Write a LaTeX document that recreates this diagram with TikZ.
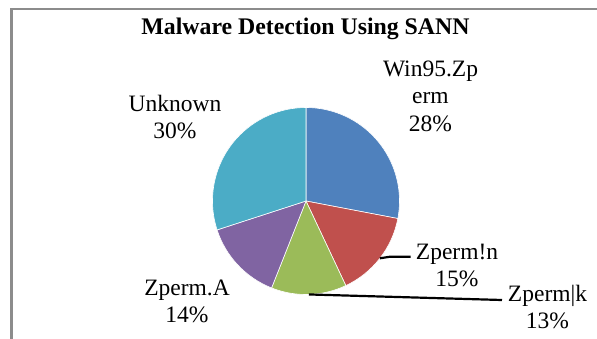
\documentclass[tikz,border=0pt]{standalone}
\usepackage{fontspec}
\setmainfont{Liberation Serif}
\definecolor{sWin}{HTML}{4F81BD}
\definecolor{sN}{HTML}{C0504D}
\definecolor{sK}{HTML}{9BBB59}
\definecolor{sA}{HTML}{8064A2}
\definecolor{sU}{HTML}{4BACC6}
\definecolor{frameGray}{HTML}{8C8C8C}
\begin{document}
\begin{tikzpicture}[x=1pt,y=-1pt,
  slice/.style={draw=white,line width=0.6pt,line join=round},
  lbl/.style={inner sep=0pt,anchor=base,font=\fontsize{23.5}{27.6}\selectfont},
  leader/.style={draw=black,line width=2.2pt,line join=round},
  chartframe/.style={draw=frameGray,line width=2.2pt}]
\useasboundingbox (0,0) rectangle (597,338);
\fill[white] (0,0) rectangle (597,338);
% chart area border (left and top edges)
\draw[chartframe] (11.5,339) |- (598,8.8);

% title
\node[inner sep=0pt,anchor=base,font=\bfseries\fontsize{23.8}{28}\selectfont] (title) at (305.5,34) {Malware Detection Using SANN};

% pie, drawn with the y axis pointing up
\begin{scope}[shift={(306,201)},yscale=-1]
  \def\R{93.5}
  \coordinate (pc) at (0,0);
  \filldraw[slice,fill=sWin] (pc) -- (90:\R) arc[start angle=90,end angle=-10.8,radius=\R] -- cycle;
  \filldraw[slice,fill=sN] (pc) -- (-10.8:\R) arc[start angle=-10.8,end angle=-64.8,radius=\R] -- cycle;
  \filldraw[slice,fill=sK] (pc) -- (-64.8:\R) arc[start angle=-64.8,end angle=-111.6,radius=\R] -- cycle;
  \filldraw[slice,fill=sA] (pc) -- (-111.6:\R) arc[start angle=-111.6,end angle=-162,radius=\R] -- cycle;
  \filldraw[slice,fill=sU] (pc) -- (-162:\R) arc[start angle=-162,end angle=-270,radius=\R] -- cycle;
  \coordinate (nEdge) at (-37.8:\R);
  \coordinate (kEdge) at (-88.2:\R);
\end{scope}

% data labels
\node[lbl] (lWin) at (430.5,76) {\begin{tabular}[t]{@{}c@{}}Win95.Zp\\erm\\28\%\end{tabular}};
\node[lbl] (lUnk) at (175,111) {\begin{tabular}[t]{@{}c@{}}Unknown\\30\%\end{tabular}};
\node[lbl] (lN) at (457,259) {\begin{tabular}[t]{@{}c@{}}Zperm!n\\15\%\end{tabular}};
\node[lbl] (lK) at (547.5,301) {\begin{tabular}[t]{@{}c@{}}Zperm|k\\13\%\end{tabular}};
\node[lbl] (lA) at (187,295) {\begin{tabular}[t]{@{}c@{}}Zperm.A\\14\%\end{tabular}};

% leader lines
\coordinate (nBend) at (390,256.7);
\coordinate (nEnd) at (410.5,256.7);
\coordinate (kEnd) at (502,300);
\draw[leader] (nEdge) -- (nBend) -- (nEnd);
\draw[leader] (kEdge) -- (kEnd);
\end{tikzpicture}
\end{document}
